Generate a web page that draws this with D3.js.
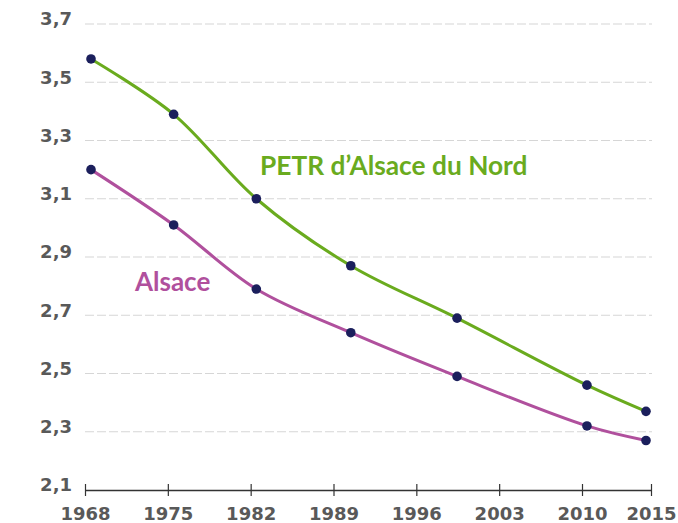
<!DOCTYPE html>
<html>
<head>
<meta charset="utf-8">
<script src="https://cdn.jsdelivr.net/npm/d3@7"></script>
<style>
  html, body { margin: 0; padding: 0; background: #ffffff; }
  svg { display: block; }
</style>
</head>
<body>
<div id="chart"></div>
<script>
// ---- Data ----
const years = [1968, 1975, 1982, 1990, 1999, 2010, 2015];
const petrValues = [3.58, 3.39, 3.10, 2.87, 2.69, 2.46, 2.37];
const alsaceValues = [3.20, 3.01, 2.79, 2.64, 2.49, 2.32, 2.27];
const xTickLabels = [1968, 1975, 1982, 1989, 1996, 2003, 2010, 2015];
const yTickValues = [2.1, 2.3, 2.5, 2.7, 2.9, 3.1, 3.3, 3.5, 3.7];
const seriesNames = ["PETR d\u2019Alsace du Nord", "Alsace"];

// ---- Layout ----
const W = 678, H = 523;
const svg = d3.select("#chart").append("svg").attr("width", W).attr("height", H);

const x = d3.scaleLinear().domain([1968, 2015]).range([91, 646]);
const xAxisScale = d3.scaleLinear().domain([1968, 2010, 2015]).range([85, 582, 651]);
const y = d3.scaleLinear().domain([2.1, 3.7]).range([490, 24]);

const gray = "#595959";

// gridlines
svg.append("g")
  .selectAll("line")
  .data(yTickValues.filter(v => v > 2.1))
  .join("line")
  .attr("x1", 85).attr("x2", 652)
  .attr("y1", d => y(d)).attr("y2", d => y(d))
  .attr("stroke", "#d6d6d6")
  .attr("stroke-width", 1.2)
  .attr("stroke-dasharray", "9,3");

// y labels
const fmt = d => d3.format(".1f")(d).replace(".", ",");
svg.append("g")
  .selectAll("text")
  .data(yTickValues)
  .join("text")
  .attr("x", 72)
  .attr("y", d => y(d) - 5)
  .attr("dy", "0.36em")
  .attr("text-anchor", "end")
  .attr("font-family", "DejaVu Sans")
  .attr("font-weight", "bold")
  .attr("font-size", 18)
  .attr("fill", gray)
  .text(fmt);

// x axis
const xAxis = d3.axisBottom(xAxisScale)
  .tickValues(xTickLabels)
  .tickFormat(d3.format("d"))
  .tickSize(6)
  .tickSizeOuter(0);
const gx = svg.append("g").attr("transform", `translate(0,${y(2.1)})`).call(xAxis);
gx.select(".domain").attr("stroke", "#333").attr("stroke-width", 1.6);
gx.selectAll(".tick line").attr("stroke", "#333").attr("stroke-width", 1.2).attr("y1", -6);
gx.selectAll(".tick text")
  .attr("y", 17)
  .attr("dy", "0.71em")
  .attr("font-family", "DejaVu Sans")
  .attr("font-weight", "bold")
  .attr("font-size", 18)
  .attr("fill", gray);

// lines
const series = [
  { name: seriesNames[0], values: petrValues, color: "#6aab1e" },
  { name: seriesNames[1], values: alsaceValues, color: "#b0509d" }
];
const line = d3.line()
  .x((d, i) => x(years[i]))
  .y(d => y(d))
  .curve(d3.curveCatmullRom.alpha(0.5));

series.forEach(s => {
  svg.append("path")
    .datum(s.values)
    .attr("d", line)
    .attr("fill", "none")
    .attr("stroke", s.color)
    .attr("stroke-width", 3);
});
series.forEach(s => {
  svg.append("g")
    .selectAll("circle")
    .data(s.values)
    .join("circle")
    .attr("cx", (d, i) => x(years[i]))
    .attr("cy", d => y(d))
    .attr("r", 4.8)
    .attr("fill", "#1b1f5c");
});

// series labels
svg.append("text")
  .attr("x", 260).attr("y", 175)
  .attr("font-family", "Lato")
  .attr("font-weight", "bold")
  .attr("font-size", 26.3)
  .attr("fill", "#6aab1e")
  .text(seriesNames[0]);
svg.append("text")
  .attr("x", 135).attr("y", 291)
  .attr("font-family", "Lato")
  .attr("font-weight", "bold")
  .attr("font-size", 26)
  .attr("fill", "#b0509d")
  .text(seriesNames[1]);
</script>
</body>
</html>
